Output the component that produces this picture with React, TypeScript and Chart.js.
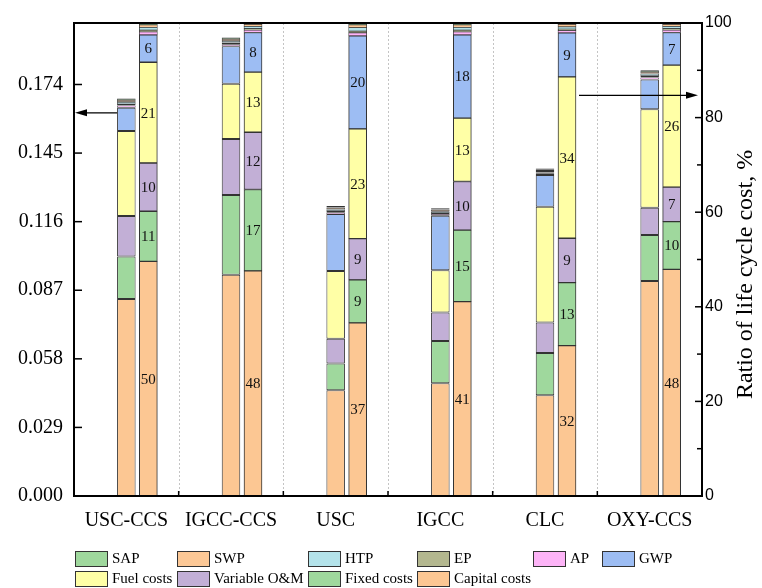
import React, { useEffect, useRef } from 'react';
import { Chart, registerables } from 'chart.js';

Chart.register(...registerables);

const categories = ['USC-CCS', 'IGCC-CCS', 'USC', 'IGCC', 'CLC', 'OXY-CCS'];

// Left bars: life cycle cost components (left axis)
const capitalAbs = [0.0833, 0.0936, 0.0447, 0.0477, 0.0426, 0.0909];
const fixedAbs = [0.0180, 0.0337, 0.0113, 0.0178, 0.0179, 0.0195];
const variableAbs = [0.0171, 0.0236, 0.0105, 0.0121, 0.0129, 0.0115];
const fuelAbs = [0.0359, 0.0234, 0.0286, 0.0179, 0.0489, 0.0416];
const gwpAbs = [0.0099, 0.0159, 0.0241, 0.0230, 0.0134, 0.0126];
const apAbs = [0.0009, 0.0008, 0.0008, 0.0007, 0.0006, 0.0009];
const epAbs = [0.0006, 0.0006, 0.0005, 0.0005, 0.0005, 0.0006];
const htpAbs = [0.0009, 0.0008, 0.0008, 0.0007, 0.0006, 0.0009];
const swpAbs = [0.0008, 0.0008, 0.0007, 0.0007, 0.0006, 0.0008];
const sapAbs = [0.0007, 0.0007, 0.0006, 0.0006, 0.0005, 0.0007];

// Right bars: ratio of life cycle cost, % (right axis)
const capitalPct = [49.6, 47.6, 36.6, 41.1, 31.8, 47.9];
const fixedPct = [10.6, 17.2, 9.1, 15.1, 13.3, 10.1];
const variablePct = [10.2, 12.1, 8.7, 10.3, 9.4, 7.3];
const fuelPct = [21.3, 12.7, 23.2, 13.4, 34.1, 25.8];
const gwpPct = [5.8, 8.4, 19.7, 17.6, 9.3, 6.9];
const apPct = [0.6, 0.5, 0.6, 0.6, 0.5, 0.5];
const epPct = [0.4, 0.3, 0.4, 0.4, 0.3, 0.3];
const htpPct = [0.6, 0.5, 0.7, 0.6, 0.5, 0.5];
const swpPct = [0.5, 0.4, 0.6, 0.5, 0.5, 0.4];
const sapPct = [0.4, 0.3, 0.4, 0.4, 0.3, 0.3];

const leftTicks = [0, 0.029, 0.058, 0.087, 0.116, 0.145, 0.174];
const rightTicks = [0, 20, 40, 60, 80, 100];
const rightMinorTicks = [10, 30, 50, 70, 90];

const seriesNames = ['Capital costs', 'Fixed costs', 'Variable O&M', 'Fuel costs', 'GWP', 'AP', 'EP', 'HTP', 'SWP', 'SAP'];
const seriesColors = ['#FCC793', '#9FD89D', '#C2AFD6', '#FFFFA6', '#9DBDF3', '#FDB4F7', '#B3B78F', '#B4E3EA', '#FCC896', '#9FD89D'];
const absSeries = [capitalAbs, fixedAbs, variableAbs, fuelAbs, gwpAbs, apAbs, epAbs, htpAbs, swpAbs, sapAbs];
const pctSeries = [capitalPct, fixedPct, variablePct, fuelPct, gwpPct, apPct, epPct, htpPct, swpPct, sapPct];
const labelledCount = 5;
const legendOrder = ['SAP', 'SWP', 'HTP', 'EP', 'AP', 'GWP', 'Fuel costs', 'Variable O&M', 'Fixed costs', 'Capital costs'];

// annotation arrows (axis values)
const leftArrowValue = 0.162;
const rightArrowValue = 84.7;

const SERIF = "'Liberation Serif', 'Times New Roman', serif";
const SANS = "'Liberation Sans', Arial, sans-serif";

const decorPlugin = {
  id: 'decor',
  beforeDatasetsDraw(chart: any) {
    const { ctx, chartArea: a, scales } = chart;
    const x = scales.x;
    ctx.save();
    ctx.strokeStyle = '#c4c4c4';
    ctx.lineWidth = 1;
    ctx.setLineDash([2, 2]);
    for (let i = 0; i < categories.length - 1; i++) {
      const px = Math.round((x.getPixelForValue(i) + x.getPixelForValue(i + 1)) / 2) + 0.5;
      ctx.beginPath();
      ctx.moveTo(px, a.top);
      ctx.lineTo(px, a.bottom);
      ctx.stroke();
    }
    ctx.restore();
  },
  afterDatasetsDraw(chart: any) {
    const { ctx } = chart;
    ctx.save();
    ctx.fillStyle = '#111';
    ctx.font = `15px ${SERIF}`;
    ctx.textAlign = 'center';
    ctx.textBaseline = 'middle';
    chart.data.datasets.forEach((ds: any, di: number) => {
      if (!ds.showValue) return;
      const meta = chart.getDatasetMeta(di);
      meta.data.forEach((el: any, i: number) => {
        const p = el.getProps(['x', 'y', 'base'], true);
        ctx.fillText(String(Math.round(ds.data[i])), p.x, (p.y + p.base) / 2 + 1);
      });
    });
    ctx.restore();
  },
  afterDraw(chart: any) {
    const { ctx, chartArea: a, scales } = chart;
    const y = scales.y;
    const y2 = scales.y2;
    const x = scales.x;
    ctx.save();
    ctx.strokeStyle = '#000';
    ctx.lineWidth = 2;
    ctx.setLineDash([]);
    ctx.strokeRect(a.left, a.top, a.right - a.left, a.bottom - a.top);
    ctx.lineWidth = 1.5;
    leftTicks.forEach((v) => {
      const py = y.getPixelForValue(v);
      ctx.beginPath();
      ctx.moveTo(a.left, py);
      ctx.lineTo(a.left + 8, py);
      ctx.stroke();
    });
    rightTicks.forEach((v) => {
      const py = y2.getPixelForValue(v);
      ctx.beginPath();
      ctx.moveTo(a.right, py);
      ctx.lineTo(a.right - 7, py);
      ctx.stroke();
    });
    rightMinorTicks.forEach((v) => {
      const py = y2.getPixelForValue(v);
      ctx.beginPath();
      ctx.moveTo(a.right, py);
      ctx.lineTo(a.right - 5, py);
      ctx.stroke();
    });
    for (let i = 0; i < categories.length - 1; i++) {
      const px = (x.getPixelForValue(i) + x.getPixelForValue(i + 1)) / 2;
      ctx.beginPath();
      ctx.moveTo(px, a.bottom);
      ctx.lineTo(px, a.bottom - 5);
      ctx.stroke();
    }
    const drawArrow = (x1: number, x2: number, py: number) => {
      const dir = x2 > x1 ? 1 : -1;
      ctx.lineWidth = 1.3;
      ctx.beginPath();
      ctx.moveTo(x1, py);
      ctx.lineTo(x2 - dir * 8, py);
      ctx.stroke();
      ctx.beginPath();
      ctx.moveTo(x2, py);
      ctx.lineTo(x2 - dir * 12, py - 3.5);
      ctx.lineTo(x2 - dir * 12, py + 3.5);
      ctx.closePath();
      ctx.fillStyle = '#000';
      ctx.fill();
    };
    const leftEl = chart.getDatasetMeta(0).data[0];
    if (leftEl) {
      const lp = leftEl.getProps(['x', 'width'], true);
      drawArrow(lp.x - lp.width / 2, a.left + 1, y.getPixelForValue(leftArrowValue));
    }
    const rightMeta = chart.getDatasetMeta(seriesNames.length + 1);
    const rEl = rightMeta.data[4];
    if (rEl) {
      const rp = rEl.getProps(['x', 'width'], true);
      drawArrow(rp.x + rp.width / 2 + 3, a.right - 4, y2.getPixelForValue(rightArrowValue));
    }
    ctx.save();
    ctx.translate(746, (a.top + a.bottom) / 2 + 15);
    ctx.rotate(-Math.PI / 2);
    ctx.fillStyle = '#000';
    ctx.font = `24px ${SERIF}`;
    ctx.textAlign = 'center';
    ctx.textBaseline = 'middle';
    ctx.fillText('Ratio of life cycle cost, %', 0, 0);
    ctx.restore();
    const cols = [75, 177, 308, 417, 533, 602];
    const rows = [551, 571];
    ctx.font = `15px ${SERIF}`;
    ctx.textAlign = 'left';
    ctx.textBaseline = 'middle';
    legendOrder.forEach((name, k) => {
      const idx = seriesNames.indexOf(name);
      const bx = cols[k % 6];
      const by = rows[Math.floor(k / 6)];
      ctx.fillStyle = seriesColors[idx];
      ctx.fillRect(bx, by, 32, 15);
      ctx.lineWidth = 1;
      ctx.strokeStyle = '#333';
      ctx.strokeRect(bx + 0.5, by + 0.5, 32, 15);
      ctx.fillStyle = '#000';
      ctx.fillText(name, bx + 37, by + 8);
    });
    ctx.restore();
  },
};

export default function App() {
  const ref = useRef<HTMLCanvasElement | null>(null);
  useEffect(() => {
    if (!ref.current) return;
    const zeros = categories.map(() => 0);
    const leftSets = seriesNames.map((name, s) => ({
      label: name,
      data: absSeries[s],
      backgroundColor: seriesColors[s],
      borderColor: '#333',
      borderWidth: s < labelledCount ? 1 : 0.7,
      borderSkipped: false,
      xAxisID: 'x',
      yAxisID: 'y',
      stack: 'L',
      grouped: false,
      barPercentage: 0.177,
      categoryPercentage: 1,
    }));
    const spacer = {
      label: '',
      data: zeros,
      backgroundColor: 'rgba(0,0,0,0)',
      borderWidth: 0,
      xAxisID: 'x2',
      yAxisID: 'y2',
      stack: 'D',
      grouped: true,
      barThickness: 44,
      maxBarThickness: 18,
    };
    const rightSets = seriesNames.map((name, s) => ({
      label: name + ' (ratio)',
      data: pctSeries[s],
      backgroundColor: seriesColors[s],
      borderColor: '#333',
      borderWidth: s < labelledCount ? 1 : 0.7,
      borderSkipped: false,
      xAxisID: 'x2',
      yAxisID: 'y2',
      stack: 'R',
      grouped: true,
      barThickness: 44,
      maxBarThickness: 18,
      showValue: s < labelledCount,
    }));
    const chart = new Chart(ref.current, {
      type: 'bar',
      data: { labels: categories, datasets: [...leftSets, spacer, ...rightSets] as any },
      options: {
        animation: false,
        responsive: true,
        maintainAspectRatio: false,
        layout: { padding: { top: 18, bottom: 52, left: 0, right: 0 } },
        plugins: { legend: { display: false }, tooltip: { enabled: false } },
        scales: {
          x: {
            type: 'category',
            stacked: true,
            offset: true,
            grid: { display: false, drawTicks: false },
            border: { display: false },
            ticks: { color: '#000', font: { family: SERIF, size: 20 }, padding: 13, maxRotation: 0, autoSkip: false },
            afterFit: (s: any) => { s.height = 40; },
          },
          x2: {
            type: 'category',
            display: false,
            stacked: true,
            offset: true,
            grid: { display: false },
          },
          y: {
            type: 'linear',
            position: 'left',
            stacked: true,
            min: 0,
            max: 0.2,
            grid: { display: false, drawTicks: false },
            border: { display: false },
            afterBuildTicks: (s: any) => { s.ticks = leftTicks.map((v) => ({ value: v })); },
            ticks: { color: '#000', font: { family: SERIF, size: 20 }, padding: 11, callback: (v: any) => Number(v).toFixed(3) },
            afterFit: (s: any) => { s.width = 74; },
          },
          y2: {
            type: 'linear',
            position: 'right',
            stacked: true,
            min: 0,
            max: 100,
            grid: { display: false, drawTicks: false },
            border: { display: false },
            afterBuildTicks: (s: any) => { s.ticks = rightTicks.map((v) => ({ value: v })); },
            ticks: { color: '#000', font: { family: SANS, size: 16 }, padding: 3 },
            afterFit: (s: any) => { s.width = 60; },
          },
        },
      },
      plugins: [decorPlugin],
    });
    return () => chart.destroy();
  }, []);
  return (
    <div style={{ position: 'fixed', left: 0, top: 0, width: 762, height: 588, background: '#fff' }}>
      <canvas ref={ref} />
    </div>
  );
}
